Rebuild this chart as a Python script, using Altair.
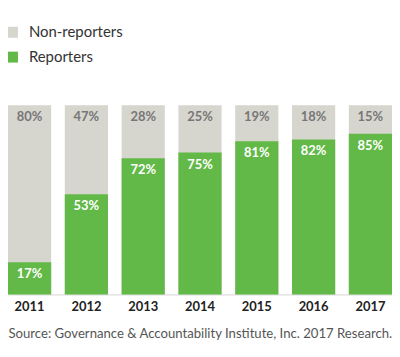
import altair as alt
import pandas as pd

years = ["2011", "2012", "2013", "2014", "2015", "2016", "2017"]
reporters = [17, 53, 72, 75, 81, 82, 85]
non_reporters = [80, 47, 28, 25, 19, 18, 15]
series_names = ["Non-reporters", "Reporters"]
series_colors = ["#d6d5ce", "#62b947"]

rows = []
for y, n in zip(years, non_reporters):
    rows.append({"year": y, "series": "Non-reporters", "top": 100, "label": n})
for y, r in zip(years, reporters):
    rows.append({"year": y, "series": "Reporters", "top": r, "label": r})
df = pd.DataFrame(rows)

FONT = "Lato"

base = alt.Chart(df).encode(
    x=alt.X(
        "year:N",
        scale=alt.Scale(paddingInner=0.24, paddingOuter=0),
        axis=alt.Axis(
            title="Source: Governance & Accountability Institute, Inc. 2017 Research.",
            titleFont=FONT,
            titleFontSize=13.2,
            titleFontWeight="normal",
            titleColor="#555555",
            titleAnchor="start",
            titleAlign="left",
            titleBaseline="middle",
            titleX=0,
            titleY=39,
            labelAngle=0,
            labelFont=FONT,
            labelFontSize=13,
            labelFontWeight="bold",
            labelColor="#222222",
            labelPadding=6,
            ticks=False,
            domainColor="#dddddd",
            domainWidth=1.5,
        ),
    ),
)

bars = base.mark_bar().encode(
    y=alt.Y("top:Q", stack=None, scale=alt.Scale(domain=[0, 100]), axis=None),
    color=alt.Color(
        "series:N",
        scale=alt.Scale(domain=series_names, range=series_colors),
        legend=alt.Legend(
            title=None,
            orient="none",
            legendX=-3,
            legendY=-81,
            symbolType="square",
            symbolSize=121,
            symbolStrokeWidth=0,
            symbolOpacity=1,
            labelFont=FONT,
            labelFontSize=15,
            labelColor="#333333",
            labelOffset=9,
            rowPadding=9,
        ),
    ),
    order=alt.Order("top:Q", sort="descending"),
)

labels = base.transform_calculate(
    txt="datum.label + '%'"
).mark_text(
    font=FONT, fontSize=13, fontWeight="bold", baseline="middle", dy=12
).encode(
    y=alt.Y("top:Q", stack=None),
    text="txt:N",
    color=alt.condition(
        alt.datum.series == "Reporters", alt.value("#ffffff"), alt.value("#777777")
    ),
)

chart = alt.layer(bars, labels).properties(
    width=386,
    height=190,
    autosize=alt.AutoSizeParams(type="none"),
    padding={"left": 0, "top": 97, "right": 0, "bottom": 48},
).configure_view(stroke=None)

chart.save("out.html", embed_options={"renderer": "svg", "actions": False})
